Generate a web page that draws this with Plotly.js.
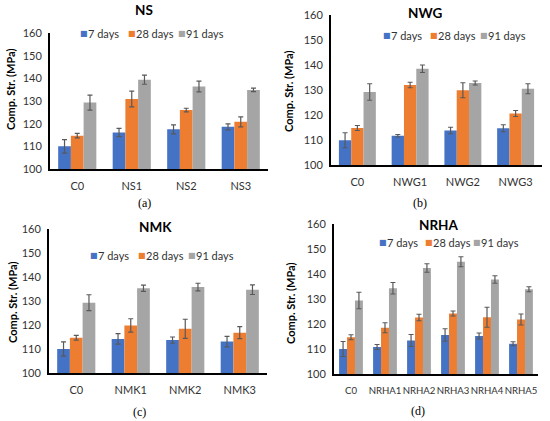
<!DOCTYPE html>
<html>
<head>
<meta charset="utf-8">
<script src="https://cdn.plot.ly/plotly-3.0.1.min.js"></script>
<style>html,body{margin:0;padding:0;background:#fff}#chart{width:550px;height:421px}</style>
</head>
<body>
<div id="chart"></div>
<script>
// ---- data ----
const seriesNames = ["7 days", "28 days", "91 days"];
const seriesColors = ["#4472C4", "#ED7D31", "#A5A5A5"];

const catsNS = ["C0", "NS1", "NS2", "NS3"];
const ns7 = [110.0, 116.1, 117.5, 118.6];
const ns28 = [114.7, 130.9, 126.0, 120.8];
const ns91 = [129.3, 139.4, 136.4, 134.9];
const ns7err = [3.0, 1.8, 2.0, 1.3];
const ns28err = [1.0, 3.5, 0.8, 2.2];
const ns91err = [3.3, 2.0, 2.4, 0.8];

const catsNWG = ["C0", "NWG1", "NWG2", "NWG3"];
const nwg7 = [109.9, 111.7, 113.8, 114.7];
const nwg28 = [114.8, 132.0, 129.9, 120.6];
const nwg91 = [129.2, 138.5, 132.8, 130.5];
const nwg7err = [3.0, 0.5, 1.3, 1.4];
const nwg28err = [1.0, 1.1, 3.0, 1.2];
const nwg91err = [3.3, 1.5, 0.8, 2.0];

const catsNMK = ["C0", "NMK1", "NMK2", "NMK3"];
const nmk7 = [110.0, 114.2, 113.7, 113.1];
const nmk28 = [114.7, 119.8, 118.4, 116.8];
const nmk91 = [129.3, 135.3, 135.8, 134.7];
const nmk7err = [3.0, 2.2, 1.3, 2.2];
const nmk28err = [1.0, 2.8, 4.0, 2.5];
const nmk91err = [3.3, 1.3, 1.6, 2.0];

const catsNRHA = ["C0", "NRHA1", "NRHA2", "NRHA3", "NRHA4", "NRHA5"];
const nrha7 = [110.0, 110.8, 113.4, 115.6, 115.2, 112.1];
const nrha28 = [114.7, 118.5, 122.6, 124.2, 122.7, 121.8];
const nrha91 = [129.4, 134.3, 142.4, 144.9, 137.8, 133.9];
const nrha7err = [3.0, 1.0, 2.4, 2.5, 1.2, 0.8];
const nrha28err = [1.0, 2.0, 1.3, 1.0, 4.0, 2.2];
const nrha91err = [3.3, 2.3, 1.7, 2.0, 1.5, 1.0];

const panelTitles = ["NS", "NWG", "NMK", "NRHA"];
const panelLabels = ["(a)", "(b)", "(c)", "(d)"];
const yTitle = "Comp. Str. (MPa)";

// ---- build ----
const W = 550, H = 421;
const FONT = "Lato, 'Open Sans', sans-serif";
const TXT = "#333333";
const panels = [
  {cats: catsNS, vals: [ns7, ns28, ns91], errs: [ns7err, ns28err, ns91err],
   px: [50, 268], py: [33, 169], title: [144, 10], legX: [79, 127, 177], legY: 33,
   label: [144, 203], ytitle: [10, 89], tick: 11},
  {cats: catsNWG, vals: [nwg7, nwg28, nwg91], errs: [nwg7err, nwg28err, nwg91err],
   px: [331, 542], py: [15, 165], title: [425, 13], legX: [382, 429, 479], legY: 35,
   label: [420, 203], ytitle: [288, 91], tick: 11},
  {cats: catsNMK, vals: [nmk7, nmk28, nmk91], errs: [nmk7err, nmk28err, nmk91err],
   px: [49, 267], py: [229, 373], title: [155, 227], legX: [89, 137, 187], legY: 255,
   label: [140, 412], ytitle: [12, 302], tick: 11},
  {cats: catsNRHA, vals: [nrha7, nrha28, nrha91], errs: [nrha7err, nrha28err, nrha91err],
   px: [334, 538], py: [224, 374], title: [438, 225], legX: [378, 424, 472], legY: 242,
   label: [418, 411], ytitle: [290, 303], tick: 9.6}
];

const traces = [];
const layout = {
  width: W, height: H,
  margin: {l: 0, r: 0, t: 0, b: 0},
  paper_bgcolor: "#fff", plot_bgcolor: "#fff",
  barmode: "group", bargap: 0.3, bargroupgap: 0,
  font: {family: FONT, color: TXT, size: 11},
  annotations: [],
  showlegend: false
};

panels.forEach((p, i) => {
  const sfx = i === 0 ? "" : String(i + 1);
  for (let s = 0; s < 3; s++) {
    traces.push({
      type: "bar",
      x: p.cats, y: p.vals[s],
      name: seriesNames[s],
      marker: {color: seriesColors[s]},
      error_y: {type: "data", array: p.errs[s], visible: true, color: "#595959", thickness: 1.2, width: 2.5},
      xaxis: "x" + sfx, yaxis: "y" + sfx,
      hoverinfo: "x+y"
    });
    // legend entry: colored square + label
    layout.annotations.push({
      text: "■", xref: "paper", yref: "paper",
      x: p.legX[s] / W, y: 1 - (p.legY + 0.5) / H, xanchor: "left", yanchor: "middle",
      showarrow: false, borderpad: 0,
      font: {family: "'DejaVu Sans', sans-serif", size: 8, color: seriesColors[s]}
    });
    layout.annotations.push({
      text: seriesNames[s], xref: "paper", yref: "paper",
      x: (p.legX[s] + 8) / W, y: 1 - p.legY / H, xanchor: "left", yanchor: "middle",
      showarrow: false, borderpad: 0, font: {family: FONT, size: 11, color: TXT}
    });
  }
  layout["xaxis" + sfx] = {
    domain: [p.px[0] / W, p.px[1] / W], anchor: "y" + sfx,
    type: "category", showline: true, linecolor: "#000", linewidth: 2,
    ticks: "", showgrid: false, zeroline: false, fixedrange: true, tickangle: 0,
    tickfont: {family: FONT, size: p.tick, color: TXT}, ticklabelstandoff: 6
  };
  layout["yaxis" + sfx] = {
    domain: [1 - p.py[1] / H, 1 - p.py[0] / H], anchor: "x" + sfx,
    range: [100, 160], dtick: 10, showline: true, linecolor: "#000", linewidth: 2,
    ticks: "", showgrid: false, zeroline: false, fixedrange: true,
    tickfont: {family: FONT, size: 11, color: TXT}, ticklabelstandoff: 4
  };
  layout.annotations.push({
    text: "<b>" + panelTitles[i] + "</b>", xref: "paper", yref: "paper",
    x: p.title[0] / W, y: 1 - p.title[1] / H, xanchor: "center", yanchor: "middle",
    showarrow: false, font: {family: FONT, size: 13.5, color: "#000"}
  });
  layout.annotations.push({
    text: panelLabels[i], xref: "paper", yref: "paper",
    x: p.label[0] / W, y: 1 - p.label[1] / H, xanchor: "center", yanchor: "middle",
    showarrow: false, font: {family: "'Liberation Serif', 'DejaVu Serif', serif", size: 12, color: "#000"}
  });
  layout.annotations.push({
    text: "<b>" + yTitle + "</b>", xref: "paper", yref: "paper",
    x: p.ytitle[0] / W, y: 1 - p.ytitle[1] / H, xanchor: "center", yanchor: "middle",
    textangle: -90, showarrow: false, font: {family: FONT, size: 11, color: "#000"}
  });
});

Plotly.newPlot("chart", traces, layout, {displayModeBar: false, staticPlot: true});
</script>
</body>
</html>
